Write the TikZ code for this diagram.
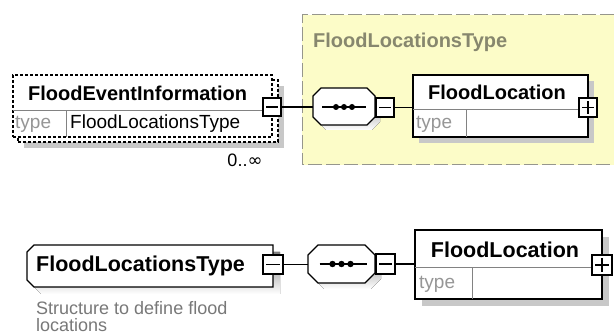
\documentclass[tikz,border=0pt]{standalone}
\usepackage{fontspec}
\setmainfont{Liberation Sans}
\newfontfamily\symfont{DejaVu Sans}
\usetikzlibrary{calc}
\definecolor{grpfill}{RGB}{252,252,200}
\definecolor{grpline}{RGB}{150,150,140}
\definecolor{grplabel}{RGB}{135,135,110}
\definecolor{shade}{RGB}{200,200,200}
\definecolor{typegray}{RGB}{150,150,150}
\definecolor{sepgray}{RGB}{130,130,130}
\definecolor{docgray}{RGB}{120,120,120}
\newcommand\myoct[2]{($(#1.north west)+(#2,0)$) -- ($(#1.north east)+(-#2,0)$) -- ($(#1.north east)+(0,#2)$) -- ($(#1.south east)+(0,-#2)$) -- ($(#1.south east)+(-#2,0)$) -- ($(#1.south west)+(#2,0)$) -- ($(#1.south west)+(0,-#2)$) -- ($(#1.north west)+(0,#2)$) -- cycle}
\newcommand\myleftcut[2]{($(#1.north west)+(#2,0)$) -- (#1.north east) -- (#1.south east) -- ($(#1.south west)+(#2,0)$) -- ($(#1.south west)+(0,-#2)$) -- ($(#1.north west)+(0,#2)$) -- cycle}
\begin{document}
\begin{tikzpicture}[x=1pt,y=-1pt,
  sz/.style 2 args={rectangle,minimum width=#1,minimum height=#2,inner sep=0pt,outer sep=0pt},
  elbox/.style={draw=black,line width=1.3pt,fill=white},
  dashbox/.style={draw=black,line width=1.2pt,dash pattern=on 3pt off 2pt,fill=white},
  shadowbox/.style={fill=shade,draw=none},
  pmbox/.style={draw=black,line width=1.1pt,fill=white},
  conn/.style={draw=black,line width=1.1pt},
  sepline/.style={draw=sepgray,line width=1pt},
  namefont/.style={font=\bfseries\fontsize{20}{24}\selectfont,inner sep=0pt},
  namefontb/.style={font=\bfseries\fontsize{21.5}{25}\selectfont,inner sep=0pt},
  typefont/.style={font=\fontsize{19}{23}\selectfont,inner sep=0pt,text=typegray},
  valfont/.style={font=\fontsize{19}{23}\selectfont,inner sep=0pt},
  docfont/.style={font=\fontsize{18}{17}\selectfont,inner sep=0pt,text=docgray}]
\useasboundingbox (0,0) rectangle (614,336);
\fill[white] (0,0) rectangle (614,336);

% ---------- group FloodLocationsType (yellow) ----------
\fill[grpfill] (302,15) rectangle (614,165);
\draw[grpline,line width=1pt,dash pattern=on 14pt off 4pt] (614,15) -- (302,15) -- (302,165) -- (614,165);
\node[namefont,text=grplabel,anchor=west] (glabel) at (313,42) {FloodLocationsType};

% ---------- FloodEventInformation ----------
\node[sz={260}{62},shadowbox] (feishadow) at (154,117) {};
\node[sz={260}{62},dashbox] (feiback) at (148,111) {};
\node[sz={259}{62},dashbox] (fei) at (142.5,106) {};
\draw[sepline] (13,111) -- (272,111);
\draw[sepline] (66,111) -- (66,137);
\node[namefont,anchor=west] (feiname) at (28,93) {FloodEventInformation};
\node[typefont,anchor=west] (feitype) at (15,124) {type};
\node[valfont,anchor=west] (feival) at (70,124) {FloodLocationsType};
\node[sz={18}{18},pmbox] (fem) at (272,107) {};
\draw[line width=1.1pt] ($(fem.west)+(3,0)$) -- ($(fem.east)+(-3,0)$);
\node[font=\fontsize{18}{20}\selectfont,inner sep=0pt] (occ) at (245,160) {0..{\symfont ∞}};

% ---------- top sequence ----------
\node[sz={62}{37}] (seq1s) at (349,111.5) {};
\fill[shade] \myoct{seq1s}{8};
\node[sz={62}{37}] (seq1) at (344,106.5) {};
\filldraw[fill=white,draw=black,line width=1.2pt] \myoct{seq1}{8};
\draw[line width=1.5pt] ($(seq1.center)+(-22,0.5)$) -- ($(seq1.center)+(22,0.5)$);
\foreach \dx in {-8,0,8} \fill ($(seq1.center)+(\dx,0.5)$) circle (3pt);
\node[sz={18}{19},pmbox] (sm1) at (385,107.5) {};
\draw[line width=1.1pt] ($(sm1.west)+(3,0)$) -- ($(sm1.east)+(-3,0)$);
\draw[conn] (fem.east) -- (fem.east -| seq1.west);

% ---------- top FloodLocation ----------
\node[sz={175}{62},shadowbox] (fl1s) at (506.5,112) {};
\node[sz={175}{62},elbox] (fl1) at (500.5,106) {};
\draw[sepline] (413,110) -- (588,110);
\draw[sepline] (466,110) -- (466,137);
\node[namefont] (fl1name) at (497,92) {FloodLocation};
\node[typefont,anchor=west] (fl1type) at (416,124) {type};
\node[sz={18}{19},pmbox] (fp1) at (588,107.5) {};
\draw[line width=1.1pt] ($(fp1.west)+(3,0)$) -- ($(fp1.east)+(-3,0)$);
\draw[line width=1.1pt] ($(fp1.north)+(0,3)$) -- ($(fp1.south)+(0,-3)$);
\draw[conn] (sm1.east) -- (sm1.east -| fl1.west);

% ---------- bottom: complex type FloodLocationsType ----------
\node[sz={246}{42}] (flts) at (157,273) {};
\fill[shade] \myleftcut{flts}{7};
\node[sz={246}{42}] (flt) at (150,266) {};
\filldraw[fill=white,draw=black,line width=1.3pt] \myleftcut{flt}{7};
\node[namefontb,anchor=west] (fltname) at (36,266) {FloodLocationsType};
\node[sz={20}{19},pmbox] (bm1) at (273,264.5) {};
\draw[line width=1.1pt] ($(bm1.west)+(3,0)$) -- ($(bm1.east)+(-3,0)$);
\node[docfont,anchor=base west] (doc1) at (36,315) {Structure to define flood};
\node[docfont,anchor=base west] (doc2) at (36,332) {locations};

% ---------- bottom sequence ----------
\node[sz={67}{38}] (seq2s) at (347.5,270) {};
\fill[shade] \myoct{seq2s}{10};
\node[sz={67}{38}] (seq2) at (341.5,264) {};
\filldraw[fill=white,draw=black,line width=1.2pt] \myoct{seq2}{10};
\draw[line width=1.5pt] ($(seq2.center)+(-22,0)$) -- ($(seq2.center)+(25,0)$);
\foreach \dx in {-9,0,9} \fill ($(seq2.center)+(\dx,0)$) circle (3.2pt);
\node[sz={19}{20},pmbox] (bm2) at (385.5,264) {};
\draw[line width=1.1pt] ($(bm2.west)+(3,0)$) -- ($(bm2.east)+(-3,0)$);
\draw[conn] (bm1.east) -- (bm1.east -| seq2.west);

% ---------- bottom FloodLocation ----------
\node[sz={187}{69},shadowbox] (fl2s) at (515.5,271.5) {};
\node[sz={187}{69},elbox] (fl2) at (508.5,264.5) {};
\draw[sepline] (415,268) -- (602,268);
\draw[sepline] (472,268) -- (472,299);
\node[namefontb] (fl2name) at (505,250) {FloodLocation};
\node[typefont,anchor=west] (fl2type) at (419,284) {type};
\node[sz={20}{20},pmbox] (fp2) at (602,265) {};
\draw[line width=1.1pt] ($(fp2.west)+(3,0)$) -- ($(fp2.east)+(-3,0)$);
\draw[line width=1.1pt] ($(fp2.north)+(0,3)$) -- ($(fp2.south)+(0,-3)$);
\draw[conn] (bm2.east) -- (bm2.east -| fl2.west);
\end{tikzpicture}
\end{document}
